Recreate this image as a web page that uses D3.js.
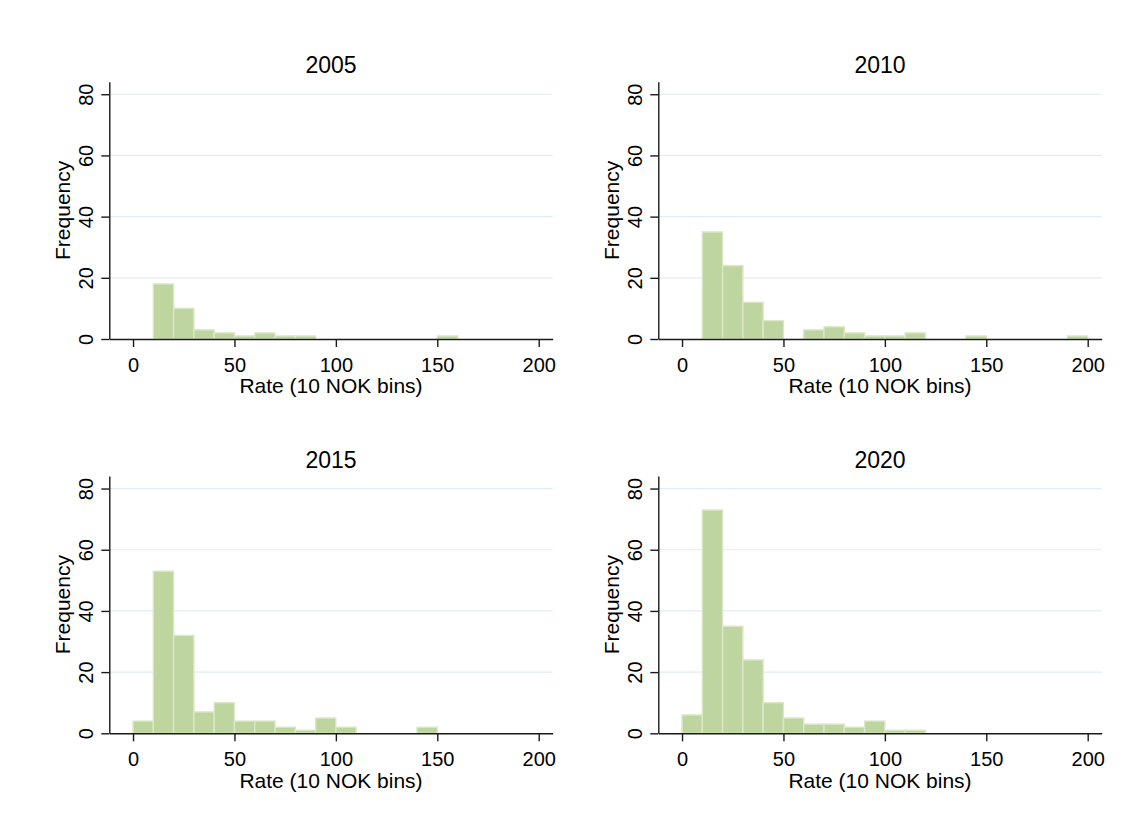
<!DOCTYPE html>
<html>
<head>
<meta charset="utf-8">
<script src="https://cdn.jsdelivr.net/npm/d3@7"></script>
<style>
  html, body { margin: 0; padding: 0; background: #fff; }
  svg { display: block; }
  text { font-family: "Liberation Sans", Arial, sans-serif; fill: #000; }
</style>
</head>
<body>
<svg id="chart" width="1127" height="832"></svg>
<script>
// Histogram data: counts per 10 NOK bin, bins start at 0, 10, ..., 190
const years = ["2005", "2010", "2015", "2020"];
const binStarts = d3.range(0, 200, 10);
const binWidth = 10;
const counts2005 = [0, 18, 10, 3, 2, 1, 2, 1, 1, 0, 0, 0, 0, 0, 0, 1, 0, 0, 0, 0];
const counts2010 = [0, 35, 24, 12, 6, 0, 3, 4, 2, 1, 1, 2, 0, 0, 1, 0, 0, 0, 0, 1];
const counts2015 = [4, 53, 32, 7, 10, 4, 4, 2, 1, 5, 2, 0, 0, 0, 2, 0, 0, 0, 0, 0];
const counts2020 = [6, 73, 35, 24, 10, 5, 3, 3, 2, 4, 1, 1, 0, 0, 0, 0, 0, 0, 0, 0];
const allCounts = [counts2005, counts2010, counts2015, counts2020];

const xTicks = [0, 50, 100, 150, 200];
const yTicks = [0, 20, 40, 60, 80];
const xLabel = "Rate (10 NOK bins)";
const yLabel = "Frequency";

// Panel plot regions (2 x 2 grid)
const colLeft = [109.3, 658.3];
const plotWidth = 443.4;
const rowTop = [81.7, 476];
const plotHeight = 257.3;

const svg = d3.select("#chart");

const axisColor = "#1a1a1a";
const gridColor = "#e3ecf0";
const barFill = "#bfd5a0";
const barStroke = "#dbe8c8";

years.forEach((year, i) => {
  const left = colLeft[i % 2];
  const top = rowTop[Math.floor(i / 2)];
  const right = left + plotWidth;
  const bottom = top + plotHeight;

  const x = d3.scaleLinear().domain([-11.7, 206.9]).range([left, right]);
  const y = d3.scaleLinear().domain([0, 84.1]).range([bottom, top]);

  const g = svg.append("g");

  // horizontal gridlines
  g.append("g")
    .selectAll("line")
    .data(yTicks.filter(t => t > 0))
    .join("line")
    .attr("x1", left)
    .attr("x2", right)
    .attr("y1", d => y(d))
    .attr("y2", d => y(d))
    .attr("stroke", gridColor)
    .attr("stroke-width", 1.2);

  // bars
  const data = binStarts.map((b, k) => ({ x0: b, x1: b + binWidth, n: allCounts[i][k] }))
    .filter(d => d.n > 0);
  g.append("g")
    .selectAll("rect")
    .data(data)
    .join("rect")
    .attr("x", d => x(d.x0))
    .attr("width", d => x(d.x1) - x(d.x0))
    .attr("y", d => y(d.n))
    .attr("height", d => y(0) - y(d.n))
    .attr("fill", barFill)
    .attr("stroke", barStroke)
    .attr("stroke-width", 1.4);

  // x axis
  const xAxis = g.append("g")
    .attr("transform", `translate(0,${bottom})`)
    .call(d3.axisBottom(x).tickValues(xTicks).tickSize(8).tickSizeOuter(0));
  xAxis.select(".domain").attr("stroke", axisColor).attr("stroke-width", 1.4);
  xAxis.selectAll(".tick line").attr("stroke", axisColor).attr("stroke-width", 1.4);
  xAxis.selectAll(".tick text")
    .attr("y", 32.7)
    .attr("dy", 0)
    .attr("font-size", 20)
    .attr("font-family", "Liberation Sans, Arial, sans-serif")
    .attr("fill", "#000");

  // y axis
  const yAxis = g.append("g")
    .attr("transform", `translate(${left},0)`)
    .call(d3.axisLeft(y).tickValues(yTicks).tickSize(8).tickSizeOuter(0));
  yAxis.select(".domain").attr("stroke", axisColor).attr("stroke-width", 1.4);
  yAxis.selectAll(".tick line").attr("stroke", axisColor).attr("stroke-width", 1.4);
  yAxis.selectAll(".tick text")
    .attr("transform", "rotate(-90)")
    .attr("x", 0)
    .attr("y", -16)
    .attr("dy", 0)
    .attr("text-anchor", "middle")
    .attr("font-size", 20)
    .attr("font-family", "Liberation Sans, Arial, sans-serif")
    .attr("fill", "#000");

  // axis titles
  g.append("text")
    .attr("x", (left + right) / 2)
    .attr("y", bottom + 54.3)
    .attr("text-anchor", "middle")
    .attr("font-size", 21)
    .text(xLabel);

  g.append("text")
    .attr("transform", `translate(${left - 39.3},${(top + bottom) / 2}) rotate(-90)`)
    .attr("text-anchor", "middle")
    .attr("font-size", 21)
    .text(yLabel);

  // panel title
  g.append("text")
    .attr("x", (left + right) / 2)
    .attr("y", top - 8.4)
    .attr("text-anchor", "middle")
    .attr("font-size", 23)
    .text(year);
});
</script>
</body>
</html>
